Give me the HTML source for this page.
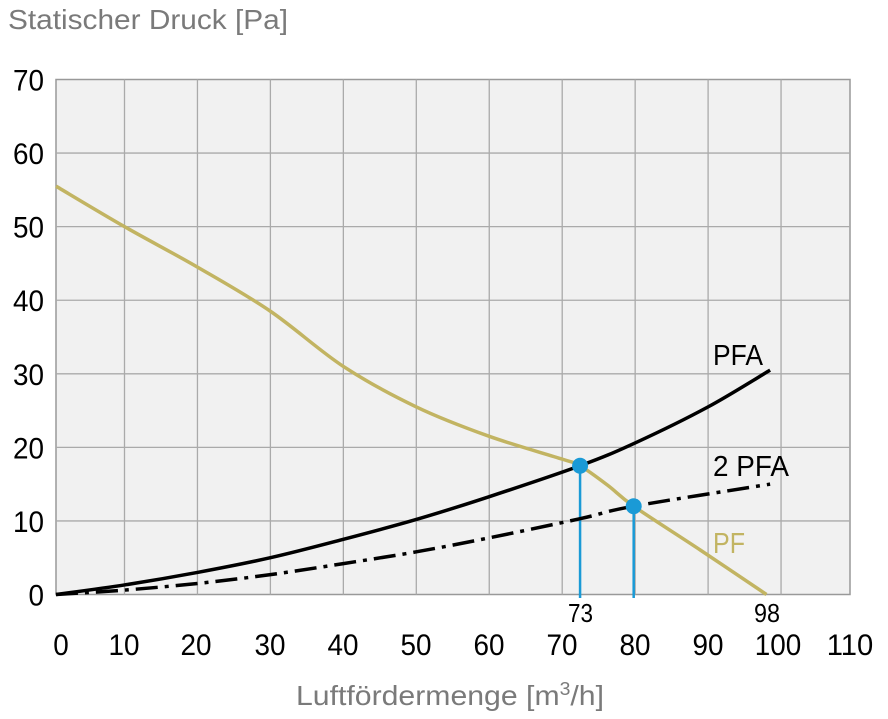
<!DOCTYPE html>
<html><head><meta charset="utf-8"><style>
body{margin:0;background:#fff;}
svg{display:block;font-family:"Liberation Sans",sans-serif;}
</style></head><body>
<svg id="s" width="888" height="719" xmlns="http://www.w3.org/2000/svg">
<text x="8" y="29" font-size="28" fill="#7a7a7a" textLength="280" lengthAdjust="spacingAndGlyphs">Statischer Druck [Pa]</text>
<rect x="56" y="79.5" width="794" height="515" fill="#f1f1f1" stroke="#999" stroke-width="1.5"/>
<g id="grid" stroke="#aaa" stroke-width="1.3"></g>
<g id="lbl" font-size="30" fill="#000"></g>
<g id="curves" fill="none"></g>
<text x="713" y="365" font-size="29" textLength="50" lengthAdjust="spacingAndGlyphs">PFA</text>
<text x="713" y="476" font-size="29" textLength="76" lengthAdjust="spacingAndGlyphs">2 PFA</text>
<text x="713" y="553" font-size="29" fill="#c2b462" textLength="32" lengthAdjust="spacingAndGlyphs">PF</text>
<text x="568" y="622" font-size="26" textLength="25" lengthAdjust="spacingAndGlyphs">73</text>
<text x="754" y="622" font-size="26" textLength="26" lengthAdjust="spacingAndGlyphs">98</text>
<text x="296" y="705" font-size="28" fill="#7a7a7a" textLength="308" lengthAdjust="spacingAndGlyphs">Luftfördermenge [m<tspan font-size="18" dy="-10">3</tspan><tspan dy="10">/h]</tspan></text>
</svg>
<script>
var NS="http://www.w3.org/2000/svg";
function X(x){return x<10?56+x*6.85:124.5+(x-10)*7.295;}
function Y(y){return 594.5-y*7.357;}
function el(p,t,a,txt){var e=document.createElementNS(NS,t);for(var k in a)e.setAttribute(k,a[k]);if(txt!==undefined)e.textContent=txt;document.getElementById(p).appendChild(e);return e;}
for(var i=1;i<=10;i++){el("grid","line",{x1:X(i*10),x2:X(i*10),y1:79.5,y2:594.5});}
for(var j=1;j<=6;j++){el("grid","line",{x1:56,x2:850,y1:Y(j*10),y2:Y(j*10)});}
for(var j=0;j<=7;j++){var s=String(j*10);el("lbl","text",{x:44-s.length*15.5,y:Y(j*10)+11,textLength:s.length*15.5,lengthAdjust:"spacingAndGlyphs"},s);}
var xl=[61,124,196,270,343,416,489,562,635,708,778,850];
for(var i=0;i<=11;i++){var s=String(i*10),w=s.length*15.5;el("lbl","text",{x:xl[i]-w/2,y:655,textLength:w,lengthAdjust:"spacingAndGlyphs"},s);}
function catmull(pts){var d="M"+pts[0][0]+","+pts[0][1];for(var i=0;i<pts.length-1;i++){var p0=pts[Math.max(0,i-1)],p1=pts[i],p2=pts[i+1],p3=pts[Math.min(pts.length-1,i+2)];var c1=[p1[0]+(p2[0]-p0[0])/6,p1[1]+(p2[1]-p0[1])/6],c2=[p2[0]-(p3[0]-p1[0])/6,p2[1]-(p3[1]-p1[1])/6];d+=" C"+c1+" "+c2+" "+p2;}return d;}
function P(a){return catmull(a.map(function(p){return [X(p[0]),Y(p[1])];}));}
var A=72.45,B=79.8;
var pf=[[0,55.5],[10,50],[20,44.5],[30,38.5],[40,31],[50,25.5],[60,21.5],[70,18.4],[A,17.5],[76.3,14.8],[B,12],[89,6],[98,0]];
var pfa=[[0,0],[10,1.3],[20,3],[30,5],[40,7.5],[50,10.2],[60,13.3],[A,17.5],[80,20.6],[90,25.5],[98.5,30.5]];
var p2=[[0,0],[10,0.6],[20,1.5],[30,2.7],[40,4.2],[50,5.8],[60,7.7],[A,10.3],[B,12],[98.5,15]];
el("curves","line",{x1:X(A),x2:X(A),y1:Y(17.5),y2:598,stroke:"#1a9ad6","stroke-width":2.5});
el("curves","line",{x1:X(B),x2:X(B),y1:Y(12),y2:598,stroke:"#1a9ad6","stroke-width":2.5});
el("curves","path",{d:P(pf),stroke:"#c2b462","stroke-width":3.5});
el("curves","path",{d:P(pfa),stroke:"#000","stroke-width":3.5});
el("curves","path",{d:P(p2),stroke:"#000","stroke-width":3.5,"stroke-dasharray":"22,7,4,7"});
el("curves","circle",{cx:X(A),cy:Y(17.5),r:8,fill:"#1a9ad6"});
el("curves","circle",{cx:X(B),cy:Y(12),r:8,fill:"#1a9ad6"});
</script>
</body></html>
